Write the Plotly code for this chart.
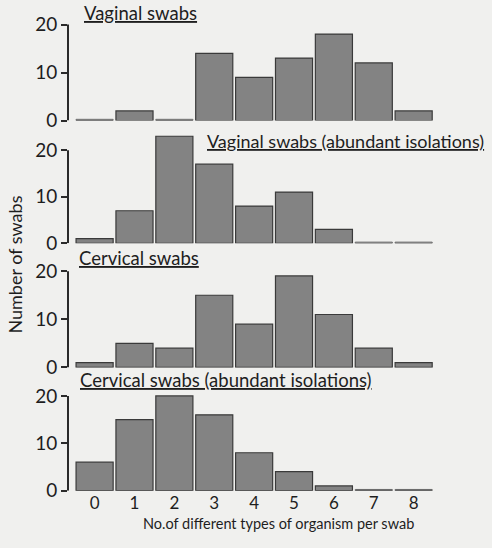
import plotly.graph_objects as go

categories = [0, 1, 2, 3, 4, 5, 6, 7, 8]
tick_labels = ["0", "1", "2", "3", "4", "5", "6", "7", "8"]

vaginal = [0, 2, 0, 14, 9, 13, 18, 12, 2]
vaginal_abundant = [1, 7, 23, 17, 8, 11, 3, 0, 0]
cervical = [1, 5, 4, 15, 9, 19, 11, 4, 1]
cervical_abundant = [6, 15, 20, 16, 8, 4, 1, 0, 0]

panel_titles = [
    "Vaginal swabs",
    "Vaginal swabs (abundant isolations)",
    "Cervical swabs",
    "Cervical swabs (abundant isolations)",
]
y_title = "Number of swabs"
x_title = "No.of different types of organism per swab"

W, H = 492, 548
FONT = "Lato"
BG = "#f0f0ee"
BAR_FILL = "#838383"
BAR_LINE = "#3a3a3a"
TEXT = "#1e1e1e"
AXIS = "#2a2a2a"
EMPTY_H = 0.25  # visual height of outline for empty bins
Y_TOP = 24      # axis range top (line drawn only to 20)

series = [vaginal, vaginal_abundant, cervical, cervical_abundant]
# pixel positions (top of image = 0) for value 0 and value 20 of each panel
panel_px = [(123, 25), (248.3, 153.3), (375, 276.7), (500.7, 404)]
title_px = [(82, 27), (205, 157), (77, 277), (78, 401)]
title_size = [18.5, 18, 18.5, 18.5]

x_dom = [68 / W, 433.6 / W]

fig = go.Figure()
for i, vals in enumerate(series):
    ax = "" if i == 0 else str(i + 1)
    fig.add_trace(go.Bar(
        x=categories, y=vals, xaxis="x" + ax, yaxis="y" + ax,
        marker=dict(color=BAR_FILL, line=dict(color=BAR_LINE, width=1.2)),
        showlegend=False, hoverinfo="skip",
    ))
    empty = [EMPTY_H if v == 0 else None for v in vals]
    fig.add_trace(go.Bar(
        x=categories, y=empty, xaxis="x" + ax, yaxis="y" + ax,
        marker=dict(color="rgba(0,0,0,0)", line=dict(color="#666", width=1)),
        showlegend=False, hoverinfo="skip",
    ))
    y0, y20 = panel_px[i]
    ytop = y0 - (y0 - y20) * Y_TOP / 20
    fig.layout["yaxis" + ax] = dict(
        domain=[1 - y0 / H, 1 - ytop / H], range=[0, Y_TOP],
        tickvals=[0, 10, 20], ticktext=["0", "10", "20"],
        ticks="outside", ticklen=6, tickwidth=2, tickcolor=AXIS,
        showline=False, showgrid=False, zeroline=False, anchor="x" + ax,
        tickfont=dict(family=FONT, size=19, color=TEXT),
    )
    fig.layout["xaxis" + ax] = dict(
        domain=x_dom, range=[-0.667, 8.5], anchor="y" + ax,
        showline=False, showgrid=False, zeroline=False, ticks="",
        tickvals=categories, ticktext=tick_labels,
        showticklabels=(i == 3),
        tickfont=dict(family=FONT, size=17, color=TEXT),
    )
    fig.add_shape(
        type="line", xref="x" + ax + " domain", yref="y" + ax,
        x0=0, x1=0, y0=0, y1=20, line=dict(color=AXIS, width=2),
    )
    tx, ty = title_px[i]
    fig.add_annotation(
        text="<u>" + panel_titles[i] + "</u>", xref="paper", yref="paper",
        x=tx / W, y=1 - ty / H, xanchor="left", yanchor="bottom",
        showarrow=False, font=dict(family=FONT, size=title_size[i], color=TEXT),
    )

fig.add_annotation(
    text=y_title, xref="paper", yref="paper", x=15 / W, y=1 - 270 / H,
    textangle=-90, showarrow=False, xanchor="center", yanchor="middle",
    font=dict(family=FONT, size=18, color=TEXT),
)
fig.add_annotation(
    text=x_title, xref="paper", yref="paper", x=278 / W, y=1 - 534 / H,
    showarrow=False, xanchor="center", yanchor="middle",
    font=dict(family=FONT, size=14.5, color=TEXT),
)

fig.update_layout(
    width=W, height=H, margin=dict(l=0, r=0, t=0, b=0),
    paper_bgcolor=BG, plot_bgcolor=BG,
    barmode="overlay", bargap=0.07,
)

fig.write_html(
    "out.html",
    config={"displayModeBar": False},
    post_script="document.body.style.margin='0';document.body.style.background='" + BG + "';",
)
